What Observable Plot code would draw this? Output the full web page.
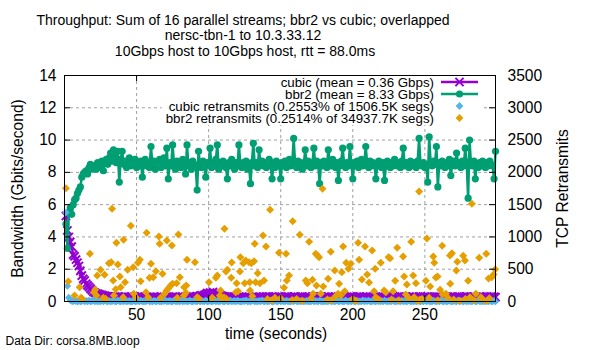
<!DOCTYPE html>
<html><head><meta charset="utf-8">
<script src="https://cdn.jsdelivr.net/npm/d3@7"></script>
<script src="https://cdn.jsdelivr.net/npm/@observablehq/plot@0.6"></script>
<style>
body{margin:0;background:#fff;}
#chart svg{font-family:"Liberation Sans",Arial,sans-serif;overflow:visible;}
</style></head><body><div id="chart"></div>
<script>
// ---- titles / labels ----
const titleLines = [
  "Throughput: Sum of 16 parallel streams; bbr2 vs cubic; overlapped",
  "nersc-tbn-1 to 10.3.33.12",
  "10Gbps host to 10Gbps host, rtt = 88.0ms"
];
const xLabel = "time (seconds)";
const yLabel = "Bandwidth (Gbits/second)";
const y2Label = "TCP Retransmits";
const caption = "Data Dir: corsa.8MB.loop";
const legendLabels = [
  "cubic (mean = 0.36 Gbps)",
  "bbr2 (mean = 8.33 Gbps)",
  "cubic retransmits (0.2553% of 1506.5K segs)",
  "bbr2 retransmits (0.2514% of 34937.7K segs)"
];
const colors = ["#9400d3", "#009e73", "#56b4e9", "#e69f00"];

// ---- ticks ----
const xTicks = [50, 100, 150, 200, 250];
const yTicks = [0, 2, 4, 6, 8, 10, 12, 14];
const y2Ticks = [0, 500, 1000, 1500, 2000, 2500, 3000, 3500];
const xDomain = [0, 299];
const yDomain = [0, 14];
const y2Domain = [0, 3500];

// ---- series: one value per second, t = 1..299 ----
const cubicGbps = [
5.3,4.4,4.0,3.7,3.4,2.9,2.8,2.6,2.4,2.2,
1.9,1.6,1.4,1.3,1.1,1.0,0.9,0.8,0.7,0.6,
0.55,0.5,0.48,0.45,0.42,0.4,0.37,0.35,0.33,0.32,
0.31,0.29,0.3,0.27,0.31,0.26,0.29,0.3,0.25,0.28,
0.27,0.3,0.24,0.28,0.26,0.29,0.25,0.27,0.3,0.24,
0.28,0.26,0.29,0.25,0.27,0.3,0.26,0.24,0.28,0.27,
0.25,0.29,0.26,0.28,0.24,0.27,0.3,0.25,0.28,0.26,
0.29,0.25,0.27,0.24,0.28,0.26,0.3,0.25,0.27,0.29,
0.26,0.28,0.24,0.3,0.27,0.25,0.29,0.26,0.31,0.28,
0.3,0.33,0.29,0.35,0.38,0.34,0.4,0.45,0.52,0.48,
0.55,0.5,0.58,0.46,0.5,0.42,0.45,0.38,0.36,0.33,
0.31,0.28,0.3,0.26,0.29,0.27,0.25,0.28,0.3,0.26,
0.28,0.25,0.29,0.27,0.24,0.3,0.26,0.28,0.25,0.27,
0.29,0.26,0.3,0.24,0.28,0.27,0.25,0.29,0.26,0.31,
0.27,0.3,0.25,0.28,0.26,0.29,0.24,0.27,0.3,0.26,
0.28,0.25,0.29,0.27,0.31,0.26,0.28,0.24,0.3,0.27,
0.25,0.29,0.26,0.28,0.3,0.25,0.27,0.29,0.26,0.28,
0.24,0.3,0.27,0.25,0.29,0.26,0.28,0.31,0.25,0.27,
0.29,0.26,0.3,0.24,0.28,0.27,0.25,0.29,0.26,0.3,
0.27,0.25,0.28,0.3,0.26,0.29,0.24,0.27,0.31,0.26,
0.28,0.25,0.29,0.27,0.3,0.26,0.28,0.24,0.29,0.27,
0.25,0.3,0.26,0.28,0.27,0.29,0.25,0.31,0.26,0.28,
0.3,0.25,0.27,0.29,0.26,0.28,0.24,0.3,0.27,0.25,
0.29,0.26,0.28,0.31,0.25,0.27,0.3,0.26,0.28,0.24,
0.29,0.27,0.25,0.3,0.26,0.28,0.31,0.25,0.27,0.29,
0.26,0.3,0.24,0.28,0.27,0.29,0.25,0.3,0.26,0.28,
0.27,0.25,0.29,0.26,0.31,0.28,0.24,0.3,0.27,0.25,
0.29,0.26,0.28,0.3,0.25,0.27,0.29,0.26,0.31,0.28,
0.25,0.3,0.27,0.29,0.26,0.28,0.24,0.3,0.27,0.29,
0.26,0.28,0.31,0.25,0.27,0.3,0.26,0.29,0.27
];
const bbr2Gbps = [
4.8,3.3,5.5,5.8,5.4,6.0,6.3,6.4,6.7,6.9,
7.1,7.7,7.9,8.0,8.1,7.9,8.3,8.5,8.2,8.4,
8.4,8.2,8.6,8.3,8.5,8.7,8.1,8.6,8.8,8.5,
8.9,9.2,8.7,9.4,9.1,8.6,9.3,7.4,8.8,9.3,
8.5,8.7,8.3,8.6,8.9,8.4,8.7,8.5,8.8,8.3,
8.6,8.4,8.7,7.7,8.5,8.8,8.4,8.6,8.3,9.6,
8.5,8.7,8.2,8.6,8.4,8.8,8.3,8.5,8.9,8.4,
9.5,7.6,8.6,8.4,9.7,8.5,8.2,8.7,8.4,8.6,
8.3,8.8,8.5,7.9,9.7,8.4,8.6,8.2,8.7,8.5,
8.4,6.9,9.3,8.5,8.3,8.7,8.4,7.7,8.6,8.5,
9.5,8.3,8.6,8.4,8.8,9.7,8.2,8.6,8.4,8.7,
8.5,8.3,7.6,8.6,8.4,8.8,8.5,8.2,8.6,8.4,
9.7,8.5,8.3,8.6,8.4,8.7,8.2,8.5,7.3,8.6,
9.8,8.4,8.6,8.3,9.4,8.5,8.7,8.4,8.6,8.3,
8.5,8.8,8.4,7.6,8.6,8.3,8.7,8.5,8.4,7.6,
8.6,8.4,8.7,8.3,8.5,8.8,8.4,8.6,10.1,8.5,
8.3,8.7,8.4,8.6,8.2,8.5,9.4,8.4,8.7,8.5,
8.3,8.6,9.5,8.4,8.7,8.5,7.3,8.6,8.4,8.7,
8.5,8.3,9.4,8.6,8.4,8.8,8.5,8.3,8.6,7.5,
8.4,8.7,9.5,8.5,8.3,8.6,8.4,9.6,8.5,7.6,
8.6,8.4,8.7,8.3,8.5,8.8,8.4,8.6,9.6,8.5,
8.3,8.7,8.4,8.6,8.5,7.6,8.4,8.7,8.5,8.3,
8.6,7.5,8.4,8.7,8.5,8.3,8.6,8.4,8.8,8.5,
8.4,8.6,8.3,8.7,9.5,8.4,8.6,8.5,8.3,8.7,
8.5,8.4,8.6,8.3,8.7,10.1,8.5,8.4,8.6,8.3,
8.5,7.4,10.2,8.6,8.4,8.7,8.5,9.6,7.1,8.6,
8.4,8.7,8.5,8.3,8.6,8.4,8.8,7.8,8.5,8.7,
8.4,9.2,8.6,8.5,8.3,8.7,8.4,9.5,8.6,6.4,
10.0,8.5,8.4,8.7,7.6,8.5,8.3,8.6,8.4,8.7,
8.5,8.3,8.6,8.4,8.7,8.5,8.4,7.6,9.3
];
const cubicRetrans = [
1380,240,60,20,10,0,15,5,0,10,
0,5,20,0,10,0,15,0,5,25,
0,10,0,5,0,15,0,20,5,0,
10,0,5,15,0,0,20,5,0,10,
0,15,0,5,10,0,0,20,0,5,
10,0,15,0,5,0,10,20,0,5,
0,10,5,0,15,0,0,10,5,20,
0,5,10,0,0,15,5,0,10,0,
20,0,5,10,0,5,15,0,0,10,
5,0,20,0,10,5,0,15,0,5,
10,0,5,25,0,10,0,5,15,0,
0,10,5,0,20,0,5,10,0,15,
5,0,0,10,5,20,0,5,0,10,
15,0,5,0,10,0,20,5,0,10,
0,5,15,0,0,10,5,0,20,0,
10,5,0,15,0,5,0,10,0,20,
5,0,10,0,15,0,5,10,0,5,
0,20,0,10,5,0,15,0,5,0,
10,0,5,20,0,10,0,5,15,0,
5,10,0,0,20,5,0,10,0,15,
0,5,10,0,5,0,20,0,10,5,
15,0,0,10,5,0,20,0,5,10,
0,15,5,0,10,0,5,20,0,0,
10,5,0,15,0,10,0,5,20,0,
5,0,10,0,15,5,0,10,0,20,
0,10,5,0,0,15,5,0,10,0,
20,5,0,10,0,5,15,0,0,10,
5,0,20,0,10,5,0,15,0,5,
10,0,5,15,0,0,20,5,0,10,
0,5,10,0,15,0,5,10,0
];
// bbr2 retransmits (time in s, count)
const bbr2RetransT = [
1,2.6,7,10.5,11.5,12.3,17.6,20.4,21.3,22.2,22.7,25,26.9,27.8,28.5,30.8,32.4,33,33.8,34.3,
35.5,36,37,38.4,39,40.7,41,42,43.8,46,47.7,48,49.5,51,52.3,52.8,56.5,57,58,59,
60,61.6,63.4,65.5,66,66.7,68,69.4,70.8,71,72.2,73.6,74.5,75,77.8,78.2,79,80,82.8,83,
84.2,84.5,85,90.5,92.1,93.3,100.2,102.5,105,106,107.8,108.3,108.8,110.6,111,112,112.3,113,115.7,116,
118.8,119.4,120.4,121.7,122,124,125,125.7,128,128.5,128.7,129.6,130.3,131.5,132,132.6,134,135.6,137.7,138.4,
139.8,140.8,142.6,144,146,148.8,150,152.3,153.7,154.2,155.8,158,158.3,161,163.2,165,167.4,168.5,169.7,171,
172,172.5,174.3,174.8,175.5,176.6,177.8,179,179.5,182.4,182.9,184.7,185,187.5,188,189.8,190.5,191.7,192.4,193.3,
194.4,195.4,197,198.6,200,202,203.7,204.4,206.3,208.5,210,211.3,213.4,214.8,215.5,216,218,219.4,221.7,222.9,
224.8,225.9,226.9,228,229.4,230.8,232,234.9,235.6,236.8,237.5,239,240.5,241.9,242.6,243.8,245,246,246.5,248,
250.7,251.4,253,253.7,255.8,256.5,257.6,258.8,259,260.6,262,262.3,264.6,266,267.4,267.6,268.8,270,271.8,272.5,
274,276.6,277.8,278,280,281.3,282.6,284,285.4,287.7,288.9,290,292.6,293,294.2,294.7,296.5,297.7,298.8
];
const bbr2RetransV = [
1755,310,93,222,57,42,739,144,181,93,403,491,57,413,42,593,609,1436,325,93,
191,909,573,387,222,67,956,299,491,1173,531,119,67,599,646,315,144,1064,67,367,
584,377,470,1007,894,57,429,119,170,945,206,248,867,274,284,57,1038,377,93,222,
134,248,646,609,67,42,299,57,367,403,93,170,57,67,1126,465,42,491,367,604,
144,284,160,465,686,593,284,635,609,299,170,593,80,624,894,299,438,284,1022,325,
852,40,1420,20,60,754,50,212,739,325,403,25,1244,40,1033,10,325,284,925,50,
336,119,739,248,713,686,119,1746,232,30,351,770,20,480,80,119,274,93,454,852,
160,599,506,584,40,10,909,646,341,852,418,294,790,160,506,67,30,599,170,144,
686,671,30,160,320,832,20,697,387,108,263,50,925,403,67,284,10,1704,30,40,
320,976,57,232,697,599,372,387,20,181,863,108,119,60,713,274,748,30,480,615,
10,708,635,40,320,67,1513,20,119,677,67,30,739,10,356,50,377,418,501
];

// retransmit axis shares the frame with the bandwidth axis
const RATIO = y2Domain[1] / yDomain[1];

const cubic = cubicGbps.map((v, i) => ({t: i + 1, v}));
const bbr2 = bbr2Gbps.map((v, i) => ({t: i + 1, v}));
const cubicR = cubicRetrans.map((v, i) => ({t: i + 1, v}));
const bbr2R = bbr2RetransT.map((t, i) => ({t, v: bbr2RetransV[i]}));

const W = 600, H = 350, mL = 64, mR = 105, mT = 75, mB = 49;
const fw = W - mL - mR, fh = H - mT - mB;
const FS = 15.6, TFS = 14;
const gridStyle = {stroke: "#a0a0a0", strokeOpacity: 1, strokeWidth: 1, strokeDasharray: "3,3"};

const plot = Plot.plot({
  width: W, height: H,
  marginLeft: mL, marginRight: mR, marginTop: mT, marginBottom: mB,
  style: {fontFamily: '"Liberation Sans", Arial, sans-serif', fontSize: FS + "px", background: "white", color: "black", overflow: "visible"},
  x: {domain: xDomain},
  y: {domain: yDomain},
  marks: [
    Plot.gridX(xTicks, gridStyle),
    Plot.gridY(yTicks.slice(1, -1), gridStyle),
    Plot.line(cubic, {x: "t", y: "v", stroke: colors[0], strokeWidth: 2.5}),
    Plot.dot(cubic, {x: "t", y: "v", symbol: "times", stroke: colors[0], strokeWidth: 2, r: 3.8}),
    Plot.line(bbr2, {x: "t", y: "v", stroke: colors[1], strokeWidth: 2.5}),
    Plot.dot(bbr2, {x: "t", y: "v", fill: colors[1], r: 3.6}),
    Plot.dot(cubicR, {x: "t", y: d => d.v / RATIO, symbol: "diamond2", fill: colors[2], r: 3.4}),
    Plot.dot(bbr2R, {x: "t", y: d => d.v / RATIO, symbol: "diamond2", fill: colors[3], r: 3.6}),
    Plot.frame({stroke: "black", strokeWidth: 1}),
    // inward tick marks
    Plot.tickX(xTicks, {x: d => d, insetTop: fh - 6, stroke: "black"}),
    Plot.tickX(xTicks, {x: d => d, insetBottom: fh - 6, stroke: "black"}),
    Plot.tickY(yTicks, {y: d => d, insetRight: fw - 6, stroke: "black"}),
    Plot.tickY(yTicks, {y: d => d, insetLeft: fw - 6, stroke: "black"}),
    // tick labels
    Plot.axisX({ticks: xTicks, tickSize: 0, tickPadding: 7, fontSize: FS, label: null}),
    Plot.axisY({anchor: "left", ticks: yTicks, tickSize: 0, tickPadding: 8, fontSize: FS, label: null}),
    Plot.axisY({anchor: "right", ticks: yTicks, tickSize: 0, tickPadding: 12, fontSize: FS, label: null,
                tickFormat: d => String(d * RATIO)}),
    // axis titles
    Plot.text([xLabel], {text: d => d, frameAnchor: "bottom", dx: -4, dy: 32, lineAnchor: "middle", fontSize: FS}),
    Plot.text([yLabel], {text: d => d, frameAnchor: "left", dx: -47, rotate: -90, textAnchor: "middle", lineAnchor: "middle", fontSize: FS}),
    Plot.text([y2Label], {text: d => d, frameAnchor: "right", dx: 67, rotate: -90, textAnchor: "middle", lineAnchor: "middle", fontSize: FS}),
    // title lines
    Plot.text([titleLines[0]], {text: d => d, frameAnchor: "top", dx: -37, dy: -55, lineAnchor: "middle", fontSize: TFS}),
    Plot.text([titleLines[1]], {text: d => d, frameAnchor: "top", dx: -37, dy: -39.5, lineAnchor: "middle", fontSize: TFS}),
    Plot.text([titleLines[2]], {text: d => d, frameAnchor: "top", dx: -35, dy: -24, lineAnchor: "middle", fontSize: TFS}),
    // caption
    Plot.text([caption], {text: d => d, frameAnchor: "bottom-left", dx: -59, dy: 40, textAnchor: "start", lineAnchor: "middle", fontSize: 12})
  ]
});
document.getElementById("chart").appendChild(plot);

// ---- key (opaque, inside top-right of frame) ----
const svg = d3.select(plot);
const key = svg.append("g").attr("font-size", 13.3).attr("font-family", '"Liberation Sans", Arial, sans-serif');
const textRight = mL + fw - 61, sampleX0 = mL + fw - 54, sampleX1 = mL + fw - 17, rowH = 12, row0 = mT + 7;
const box = key.append("rect").attr("fill", "white");
let minX = textRight;
legendLabels.forEach((lab, i) => {
  const y = row0 + i * rowH;
  const t = key.append("text").attr("x", textRight).attr("y", y).attr("dy", "0.35em")
    .attr("text-anchor", "end").attr("fill", "black").text(lab);
  minX = Math.min(minX, textRight - t.node().getComputedTextLength());
  const mx = (sampleX0 + sampleX1) / 2;
  if (i < 2) key.append("line").attr("x1", sampleX0).attr("x2", sampleX1).attr("y1", y).attr("y2", y)
    .attr("stroke", colors[i]).attr("stroke-width", 2.5);
  if (i === 0) key.append("path").attr("d", d3.symbol(d3.symbolTimes, Math.PI * 3.8 * 3.8)())
    .attr("transform", `translate(${mx},${y})`).attr("stroke", colors[0]).attr("stroke-width", 2).attr("fill", "none");
  if (i === 1) key.append("circle").attr("cx", mx).attr("cy", y).attr("r", 3.6).attr("fill", colors[1]);
  if (i >= 2) key.append("path").attr("d", d3.symbol(d3.symbolDiamond2, Math.PI * 3.5 * 3.5)())
    .attr("transform", `translate(${mx},${y})`).attr("fill", colors[i]);
});
box.attr("x", minX - 4).attr("y", mT + 1).attr("width", sampleX1 + 4 - (minX - 4)).attr("height", row0 + 3 * rowH + 7 - mT - 1);
</script></body></html>
